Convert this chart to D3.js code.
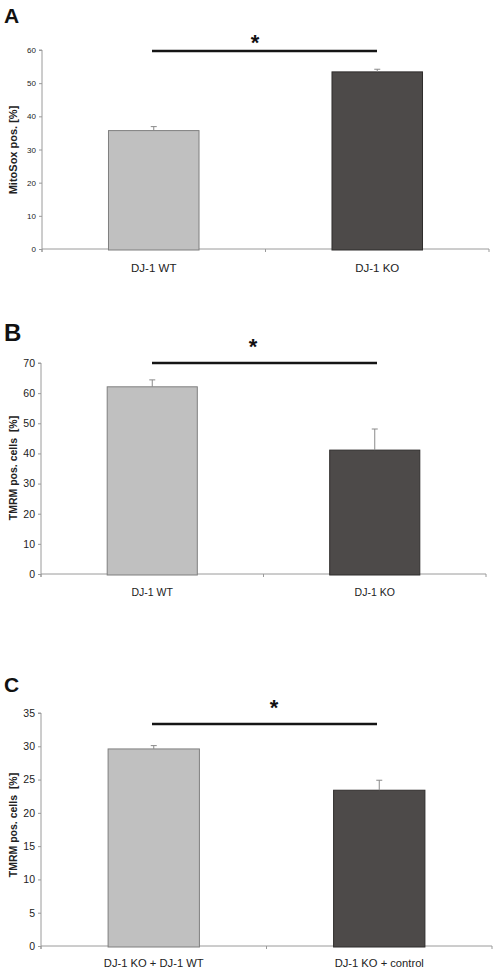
<!DOCTYPE html>
<html><head><meta charset="utf-8">
<script src="https://d3js.org/d3.v7.min.js"></script>
<style>body{margin:0;background:#fff}svg{display:block}</style>
</head><body>
<script>
// Panel A
const catsA = ["DJ-1 WT", "DJ-1 KO"];
const valsA = [35.7, 53.4];
const errA = [1.2, 0.8];
const ticksA = [0, 10, 20, 30, 40, 50, 60];
// Panel B
const catsB = ["DJ-1 WT", "DJ-1 KO"];
const valsB = [62.1, 41.1];
const errB = [2.3, 7.0];
const ticksB = [0, 10, 20, 30, 40, 50, 60, 70];
// Panel C
const catsC = ["DJ-1 KO + DJ-1 WT", "DJ-1 KO + control"];
const valsC = [29.6, 23.4];
const errC = [0.5, 1.5];
const ticksC = [0, 5, 10, 15, 20, 25, 30, 35];

const svg = d3.select("body").append("svg").attr("width", 498).attr("height", 973);
const font = "Arial, 'Liberation Sans', sans-serif";
const colors = ["#c0c0c0", "#4d4a49"];
const strokes = ["#7f7f7f", "#2f2d2c"];

function panel(o) {
  const g = svg.append("g");
  const x = d3.scaleBand().domain(o.cats).range([o.x0, o.x1]).paddingInner(0).paddingOuter(0);
  const y = d3.scaleLinear().domain([0, o.ymax]).range([o.yb, o.yt]);
  g.append("text").attr("x", 4).attr("y", o.letterY).text(o.letter)
    .attr("font-family", font).attr("font-weight", "bold").attr("font-size", o.letterSize).attr("fill", "#111");
  const ya = d3.axisLeft(y).tickValues(o.ticks).tickSize(3).tickPadding(3);
  const yg = g.append("g").attr("transform", `translate(${o.x0},0)`).call(ya);
  yg.select(".domain").attr("stroke", "#9a9a9a").attr("d", `M-3,${o.yt}H0V${o.yb + 3}`);
  yg.selectAll(".tick line").attr("stroke", "#9a9a9a");
  yg.selectAll(".tick text").attr("font-family", font).attr("font-size", o.tickSize).attr("fill", "#222")
    .attr("font-weight", o.tickBold ? "bold" : "normal");
  const xg = g.append("g");
  xg.append("line").attr("x1", o.x0).attr("x2", o.x1).attr("y1", o.yb).attr("y2", o.yb).attr("stroke", "#9a9a9a");
  const bounds = [o.x0, ...o.cats.map(c => x(c) + x.bandwidth())];
  xg.selectAll("line.t").data(bounds).enter().append("line").attr("class", "t")
    .attr("x1", d => d).attr("x2", d => d).attr("y1", o.yb).attr("y2", o.yb + 3).attr("stroke", "#9a9a9a");
  const bw = x.bandwidth() * 0.405;
  g.selectAll("rect.bar").data(o.vals).enter().append("rect").attr("class", "bar")
    .attr("x", (d, i) => x(o.cats[i]) + x.bandwidth() / 2 - bw / 2)
    .attr("width", bw)
    .attr("y", d => y(d))
    .attr("height", d => y(0) - y(d) + 1)
    .attr("fill", (d, i) => colors[i]).attr("stroke", (d, i) => strokes[i]).attr("stroke-width", 1);
  o.vals.forEach((v, i) => {
    const cx = x(o.cats[i]) + x.bandwidth() / 2;
    g.append("line").attr("x1", cx).attr("x2", cx).attr("y1", y(v)).attr("y2", y(v + o.err[i])).attr("stroke", "#8a8a8a");
    g.append("line").attr("x1", cx - 3).attr("x2", cx + 3).attr("y1", y(v + o.err[i])).attr("y2", y(v + o.err[i])).attr("stroke", "#8a8a8a");
  });
  g.selectAll("text.cat").data(o.cats).enter().append("text").attr("class", "cat")
    .attr("x", d => x(d) + x.bandwidth() / 2).attr("y", o.catY).attr("text-anchor", "middle")
    .attr("font-family", font).attr("font-size", o.catSize).attr("fill", "#222").text(d => d);
  g.append("text").attr("transform", `translate(${o.ylabX},${o.ylabY}) rotate(-90)`).attr("text-anchor", "middle")
    .attr("font-family", font).attr("font-weight", "bold").attr("font-size", o.ylabSize).attr("fill", "#222")
    .attr("xml:space", "preserve").text(o.ylab);
  g.append("line").attr("x1", 152).attr("x2", 377).attr("y1", o.sigY).attr("y2", o.sigY)
    .attr("stroke", "#151515").attr("stroke-width", 2.6);
  g.append("text").attr("x", o.starX).attr("y", o.starY).attr("text-anchor", "middle")
    .attr("font-family", font).attr("font-weight", "bold").attr("font-size", 22).attr("fill", "#111").text("*");
}

panel({letter: "A", letterY: 23, letterSize: 21, cats: catsA, vals: valsA, err: errA, ticks: ticksA, ymax: 60,
  x0: 42, x1: 489, yt: 50, yb: 249, tickSize: 8, tickBold: false, catY: 272, catSize: 11.5,
  ylab: "MitoSox pos. [%]", ylabX: 17, ylabY: 150, ylabSize: 11, sigY: 51, starX: 255, starY: 50});
panel({letter: "B", letterY: 341, letterSize: 24, cats: catsB, vals: valsB, err: errB, ticks: ticksB, ymax: 70,
  x0: 41, x1: 486, yt: 363, yb: 574, tickSize: 10.5, tickBold: false, catY: 596, catSize: 10.5,
  ylab: "TMRM pos. cells  [%]", ylabX: 17, ylabY: 468, ylabSize: 10.5, sigY: 363, starX: 253, starY: 354});
panel({letter: "C", letterY: 692, letterSize: 21, cats: catsC, vals: valsC, err: errC, ticks: ticksC, ymax: 35,
  x0: 41, x1: 492, yt: 713, yb: 946, tickSize: 10.5, tickBold: false, catY: 967, catSize: 11.2,
  ylab: "TMRM pos. cells  [%]", ylabX: 17, ylabY: 825, ylabSize: 10.5, sigY: 724, starX: 274, starY: 715});
</script>
</body></html>
